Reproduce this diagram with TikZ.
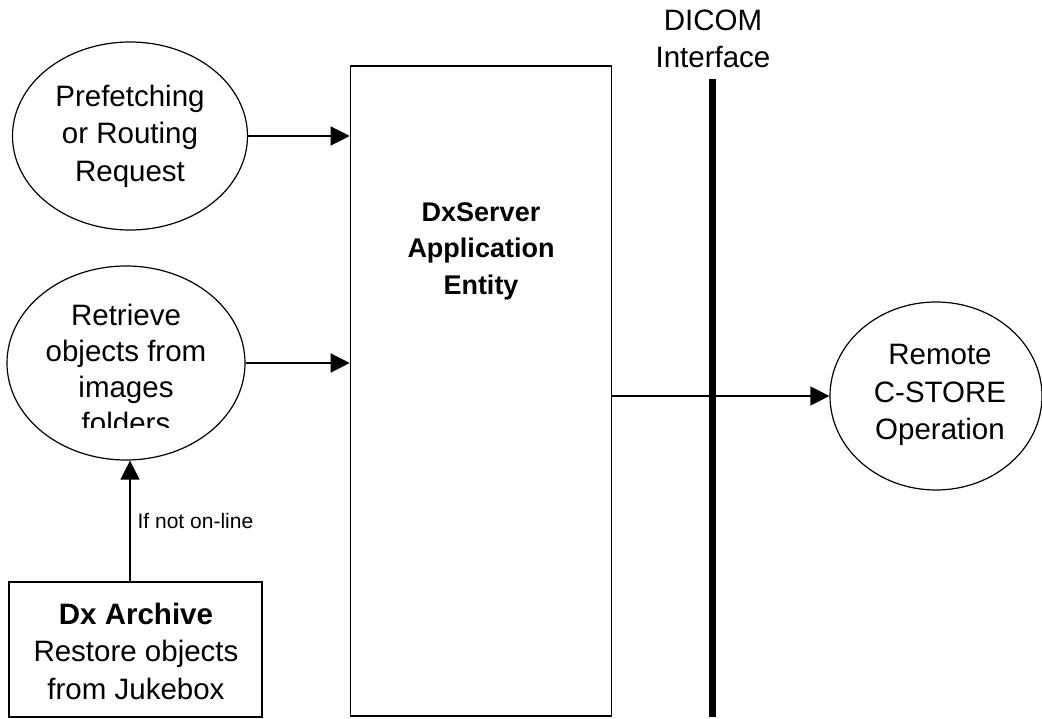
\documentclass[tikz,border=0pt]{standalone}
\usepackage{fontspec}
\setmainfont{Liberation Sans}
\usetikzlibrary{arrows.meta,shapes.geometric}
\begin{document}
\begin{tikzpicture}[x=1pt,y=-1pt,
  every node/.style={font=\fontsize{29.5}{37.5}\selectfont},
  bubble/.style={draw,line width=1.2pt,ellipse,inner sep=0pt},
  conn/.style={line width=1.3pt,-{Triangle[length=19pt,width=19pt]}},
  txt/.style={align=center,inner sep=0pt}]
\useasboundingbox (0,0) rectangle (1042,719);
% ellipses
\node[bubble,minimum width=235pt,minimum height=188pt] (pre) at (130,136) {};
\node[txt] (pret) at (130,136) {Prefetching\\or Routing\\Request};
\node[bubble,minimum width=238pt,minimum height=194pt] (ret) at (126,363) {};
\begin{scope}
\clip (0,250) rectangle (300,427);
\node[txt,font=\fontsize{29.5}{36}\selectfont] (rett) at (126,369) {Retrieve\\objects from\\images\\folders};
\end{scope}
\node[bubble,minimum width=212pt,minimum height=188pt] (rem) at (936,396) {};
\node[txt] (remt) at (940,395) {Remote\\C-STORE\\Operation};
% main box
\node[draw,line width=1.6pt,minimum width=261pt,minimum height=650pt,inner sep=0pt] (dx) at (481,391) {};
\node[txt,font=\fontsize{27}{36.5}\selectfont\bfseries] (dxt) at (481,251) {DxServer\\Application\\Entity};
% archive box
\node[draw,line width=1.6pt,minimum width=253pt,minimum height=135pt,inner sep=0pt] (arc) at (135.5,649.5) {};
\node[txt] (arct) at (136,651) {\textbf{Dx Archive}\\Restore objects\\from Jukebox};
% DICOM interface
\coordinate (ifT) at (712,79);
\coordinate (ifB) at (712,717);
\draw[line width=7pt] (ifT) -- (ifB);
\node[txt] (ifl) at (713,39) {DICOM\\Interface};
% connectors
\draw[conn] (pre.east) -- (dx.west |- pre.east);
\draw[conn] (ret.east) -- (dx.west |- ret.east);
\draw[conn] (dx.east |- rem.west) -- (rem.west);
\draw[conn] (arc.north -| 130,0) -- (ret.south -| 130,0) node[pos=0.5,right=7pt,font=\fontsize{21}{25}\selectfont,inner sep=0pt] {If not on-line};
\end{tikzpicture}
\end{document}
